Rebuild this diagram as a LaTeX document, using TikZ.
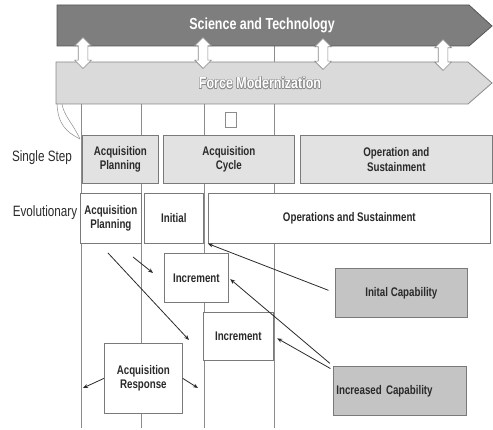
\documentclass[tikz,border=0pt]{standalone}
\usepackage{fontspec}
\setmainfont{Liberation Sans}
\newfontfamily\narrowsf[FakeStretch=0.78]{Liberation Sans}
\usetikzlibrary{shapes.arrows, arrows.meta}

\definecolor{stfill}{HTML}{7E7E7E}
\definecolor{stline}{HTML}{555555}
\definecolor{fmfill}{HTML}{DADADA}
\definecolor{fmline}{HTML}{8A8A8A}
\definecolor{boxline}{HTML}{7A7A7A}
\definecolor{ssfill}{HTML}{E2E2E2}
\definecolor{capfill}{HTML}{C4C4C4}
\definecolor{gridline}{HTML}{8C8C8C}
\definecolor{txt}{HTML}{2A2A2A}

\tikzset{
  band/.style={line width=0.8pt, line join=miter},
  bandtext/.style={font=\narrowsf\bfseries\fontsize{16}{18}\selectfont, text=white, inner sep=0pt},
  linkarrow/.style={shape=double arrow, draw=fmline, fill=white, line width=0.7pt,
    rotate=90, inner sep=4.5pt, minimum height=31pt,
    double arrow head extend=3.5pt, double arrow head indent=0pt},
  grid/.style={draw=gridline, line width=0.6pt},
  boxbase/.style={draw=boxline, line width=0.7pt, anchor=north west, align=center,
    inner sep=1pt, text=txt, font=\narrowsf\bfseries\fontsize{12.5}{14.5}\selectfont},
  ssbox/.style={boxbase, fill=ssfill},
  evbox/.style={boxbase, fill=white},
  capbox/.style={boxbase, fill=capfill},
  rowlabel/.style={font=\narrowsf\fontsize{15}{17}\selectfont, text=txt, inner sep=0pt},
  conn/.style={draw=txt, line width=0.8pt, -{Stealth[length=5pt,width=4pt]}},
}

\begin{document}
\begin{tikzpicture}[x=1pt, y=-1pt]
\useasboundingbox (0,0) rectangle (493,430);

% phase columns running down the page
\draw[grid] (81,104) -- (81,428);
\draw[grid] (141,104) -- (141,428);
\draw[grid] (204,104) -- (204,428);
\draw[grid] (274,104) -- (274,428);
\draw[grid] (274,45) -- (274,62);

% the two long bands
\draw[band, draw=stline, fill=stfill] (57,5) -- (469,5) -- (492,26) -- (469,46) -- (57,46) -- cycle;
\node[bandtext] (st) at (262,25) {Science and Technology};

\draw[band, draw=fmline, fill=fmfill] (56,62) -- (468,62) -- (492,83) -- (468,104) -- (56,104) -- cycle;
\foreach \dx/\dy in {0.7/0, -0.7/0, 0/0.7, 0/-0.7, 0.5/0.5, -0.5/0.5, 0.5/-0.5, -0.5/-0.5}
  \node[bandtext, text=fmline] at (260+\dx,83+\dy) {Force Modernization};
\node[bandtext] (fm) at (260,83) {Force Modernization};

% links between the bands
\node[linkarrow] (l1) at (83,53) {};
\node[linkarrow] (l2) at (203,53) {};
\node[linkarrow] (l3) at (323,54) {};
\node[linkarrow] (l4) at (443,55) {};

% small marker and curved pointer
\node[draw=gridline, fill=white, line width=0.6pt, minimum width=11pt, minimum height=15pt, inner sep=0pt] (mark) at (231,119.5) {};
\draw[draw=gridline, line width=0.5pt] (57,104) .. controls (58,124) and (66,132) .. (80,139);
\draw[draw=gridline, line width=0.5pt] (62,104) .. controls (64,116) and (72,122) .. (80,139);

% single step row
\node[rowlabel] (lss) at (42,158) {Single Step};
\node[ssbox, minimum width=76pt, minimum height=48pt] (ssplan) at (82,135) {Acquisition\\Planning};
\node[ssbox, minimum width=131pt, minimum height=48pt] (sscycle) at (163,135) {Acquisition\\Cycle};
\node[ssbox, minimum width=192pt, minimum height=48pt] (ssops) at (300,135) {Operation and\\Sustainment};

% evolutionary row
\node[rowlabel] (lev) at (45,213) {Evolutionary};
\node[evbox, minimum width=61pt, minimum height=50pt] (evplan) at (80,193) {Acquisition\\Planning};
\node[evbox, minimum width=59pt, minimum height=50pt] (evinit) at (144,193) {Initial};
\node[evbox, minimum width=282pt, minimum height=50pt] (evops) at (208,193) {Operations and Sustainment};

% increments and response
\node[evbox, minimum width=64pt, minimum height=49pt] (inc1) at (164,253) {Increment};
\node[evbox, minimum width=70pt, minimum height=48pt] (inc2) at (203,312) {Increment};
\node[evbox, minimum width=78pt, minimum height=70pt] (resp) at (104,343) {Acquisition\\Response};

% capability boxes
\node[capbox, minimum width=132pt, minimum height=49pt] (icap) at (335,268) {Inital Capability};
\node[capbox, minimum width=133pt, minimum height=49pt, align=left, text width=127pt] (xcap) at (333,366) {Increased Capability};

% connectors
\coordinate (a1s) at (108,253);
\coordinate (a1e) at (189,340);
\coordinate (a2s) at (133,257);
\coordinate (a2e) at (153,273);
\coordinate (rl) at (83,388);
\coordinate (rr) at (198,388);
\draw[conn] (a1s) -- (a1e);
\draw[conn] (a2s) -- (a2e);
\draw[conn, shorten <=7pt] (icap.west) -- (evops.south west);
\draw[conn, shorten <=4pt, shorten >=2pt] (xcap.north west) -- (inc1.east);
\draw[conn, shorten <=3pt, shorten >=4pt] ([yshift=-4pt]xcap.north west) -- (inc2.east);
\draw[conn] (resp.west) -- (rl);
\draw[conn] (resp.east) -- (rr);
\end{tikzpicture}
\end{document}
